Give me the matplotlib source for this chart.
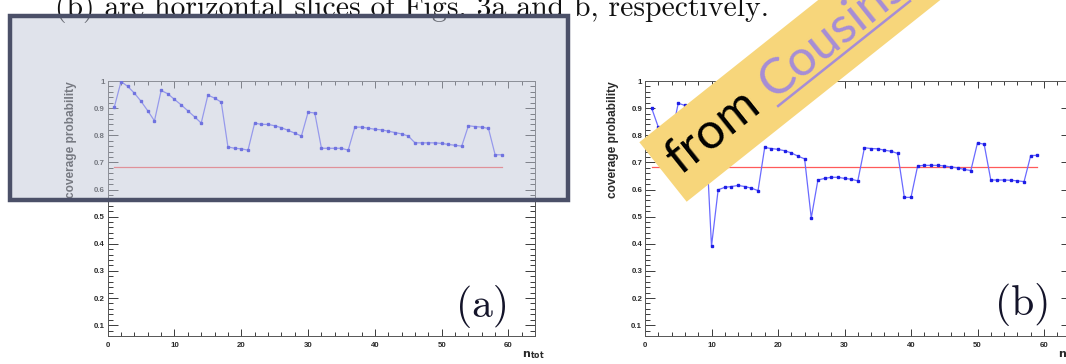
import numpy as np
import matplotlib
matplotlib.use("Agg")
import matplotlib.pyplot as plt
from matplotlib.patches import Polygon, Rectangle
from matplotlib.lines import Line2D
from matplotlib.textpath import TextPath
from matplotlib.font_manager import FontProperties
from matplotlib.ticker import MultipleLocator, FixedLocator

# ---------------- data ----------------
n_tot = list(range(1, 60))
coverage_a = [0.905, 0.998, 0.980, 0.955, 0.925, 0.890, 0.853, 0.965, 0.953, 0.932,
              0.912, 0.890, 0.868, 0.845, 0.948, 0.937, 0.922, 0.757, 0.752, 0.750,
              0.745, 0.845, 0.840, 0.840, 0.835, 0.828, 0.818, 0.808, 0.797, 0.885,
              0.882, 0.752, 0.752, 0.752, 0.752, 0.745, 0.830, 0.830, 0.826, 0.822,
              0.820, 0.815, 0.810, 0.805, 0.797, 0.772, 0.772, 0.772, 0.772, 0.770,
              0.766, 0.763, 0.760, 0.835, 0.832, 0.830, 0.825, 0.728, 0.728]
coverage_b = [0.900, 0.830, 0.815, 0.800, 0.918, 0.910, 0.902, 0.895, 0.885, 0.391,
              0.599, 0.608, 0.611, 0.615, 0.611, 0.605, 0.596, 0.755, 0.751, 0.748,
              0.743, 0.735, 0.723, 0.713, 0.495, 0.635, 0.641, 0.645, 0.645, 0.641,
              0.638, 0.632, 0.754, 0.751, 0.750, 0.745, 0.741, 0.733, 0.571, 0.571,
              0.687, 0.689, 0.689, 0.689, 0.687, 0.683, 0.680, 0.674, 0.670, 0.772,
              0.767, 0.635, 0.635, 0.635, 0.634, 0.632, 0.629, 0.725, 0.726]
target_level = 0.6827
target_range = [1, 59]

x_ticks = [0, 10, 20, 30, 40, 50, 60]
x_tick_labels = ["0", "10", "20", "30", "40", "50", "60"]
y_ticks = [0.1, 0.2, 0.3, 0.4, 0.5, 0.6, 0.7, 0.8, 0.9, 1.0]
y_tick_labels = ["0.1", "0.2", "0.3", "0.4", "0.5", "0.6", "0.7", "0.8", "0.9", "1"]
y_label = "coverage probability"
x_label = r"$\mathbf{n}_{\mathbf{tot}}$"
panel_labels = ["(a)", "(b)"]
caption = "(b) are horizontal slices of Figs. 3a and b, respectively."
banner_words = ["from", "Cousins"]

# ---------------- figure ----------------
W, H = 1066, 364
fig = plt.figure(figsize=(W / 100, H / 100), dpi=100)
fig.patch.set_facecolor("white")


def fr(x, y):
    """pixel (y down) -> figure fraction"""
    return (x / W, 1 - y / H)


def ax_rect(x0, top, w, bottom):
    return [x0 / W, 1 - bottom / H, w / W, (bottom - top) / H]


TICK_C = "#3a3a3a"


def draw_panel(rect, values, ylabel_x):
    ax = fig.add_axes(rect)
    ax.set_xlim(0, 64)
    ax.set_ylim(0.06, 1.0)
    ax.plot(target_range, [target_level, target_level], color="#ff5a5a", lw=0.9, zorder=2)
    ax.plot(n_tot, values, color="#6a6aff", lw=0.9, marker="s", ms=1.7,
            mfc="#1e1ee6", mec="#1e1ee6", zorder=3)
    ax.xaxis.set_major_locator(FixedLocator(x_ticks))
    ax.set_xticklabels(x_tick_labels)
    ax.yaxis.set_major_locator(FixedLocator(y_ticks))
    ax.set_yticklabels(y_tick_labels)
    ax.xaxis.set_minor_locator(MultipleLocator(2))
    ax.yaxis.set_minor_locator(MultipleLocator(0.02))
    ax.tick_params(which="both", direction="in", top=True, right=True,
                   color=TICK_C, width=0.7, labelsize=5.7, labelcolor="#2a2a2a")
    ax.tick_params(axis="x", which="major", length=5.0, pad=4.3)
    ax.tick_params(axis="x", which="minor", length=2.6)
    ax.tick_params(axis="y", which="major", length=7.5, pad=2.0)
    ax.tick_params(axis="y", which="minor", length=3.8)
    for t in ax.get_xticklabels() + ax.get_yticklabels():
        t.set_fontweight("bold")
        t.set_fontfamily("Liberation Sans")
    for s in ax.spines.values():
        s.set_color("#555555")
        s.set_linewidth(0.7)
    ax.text(0.97, -0.0745, x_label, transform=ax.transAxes, ha="left", va="center",
            fontsize=8, color="#2a2a2a")
    fig.text(ylabel_x / W, 1 - 81 / H, y_label, rotation=90, ha="center", va="top",
             fontsize=8.6, fontweight="bold", family="Liberation Sans", color="#2a2a2a")
    return ax


ax_a = draw_panel(ax_rect(107.7, 81, 64 * 6.68, 336), coverage_a, 71)
ax_b = draw_panel(ax_rect(645.0, 81, 64 * 6.65, 336), coverage_b, 613)

# panel labels
fig.text(483 / W, 1 - 306 / H, panel_labels[0], fontfamily="cmr10", fontsize=30,
         ha="center", va="center", color="#14142a")
fig.text(1023 / W, 1 - 305 / H, panel_labels[1], fontfamily="cmr10", fontsize=30,
         ha="center", va="center", color="#14142a")

# caption line (cut at the top)
cap_prop = FontProperties(family="cmr10")
w10 = TextPath((0, 0), caption, size=10, prop=cap_prop).get_extents().width
cap_fs = (763 - 55) * 0.72 / (w10 / 10)
fig.text(55 / W, 1 - 16 / H, caption, fontfamily="cmr10", fontsize=cap_fs,
         ha="left", va="baseline", color="#111111", zorder=1)

# translucent overlay box
box = Rectangle(fr(10, 200), (568 - 10) / W, (200 - 16) / H, transform=fig.transFigure,
                facecolor=(0.765, 0.79, 0.85, 0.5), edgecolor="#4b5068", lw=3.2, zorder=10)
fig.add_artist(box)

# banner
ang = 38.5
th = np.deg2rad(ang)
d = np.array([np.cos(th), -np.sin(th)])
nrm = np.array([np.sin(th), np.cos(th)])
p0 = np.array([663.0, 172.0])
half = 38.0
L = 450.0
corners = [p0 - half * nrm, p0 + half * nrm, p0 + L * d + half * nrm, p0 + L * d - half * nrm]
fig.add_artist(Polygon([fr(*c) for c in corners], closed=True, transform=fig.transFigure,
                       facecolor="#f7d67b", edgecolor="none", zorder=20))

bfs = 36
bprop = FontProperties(family="Lato", size=bfs)
anchor = p0 + 12 * d + 13 * nrm


def tw(s):
    return TextPath((0, 0), s, size=bfs, prop=bprop).get_extents().width * 100 / 72


fig.text(*fr(*anchor), banner_words[0], rotation=ang, rotation_mode="anchor",
         ha="left", va="baseline", fontproperties=bprop, color="black", zorder=21)
off = tw(banner_words[0] + " " + banner_words[1]) - tw(banner_words[1])
c_anchor = anchor + off * d
fig.text(*fr(*c_anchor), banner_words[1], rotation=ang, rotation_mode="anchor",
         ha="left", va="baseline", fontproperties=bprop, color="#a68dd6", zorder=21)
u0 = c_anchor + 7 * nrm
u1 = u0 + tw(banner_words[1]) * d
fig.add_artist(Line2D([fr(*u0)[0], fr(*u1)[0]], [fr(*u0)[1], fr(*u1)[1]],
                      transform=fig.transFigure, color="#a68dd6", lw=1.8, zorder=21))

fig.savefig("out.png", dpi=100)
